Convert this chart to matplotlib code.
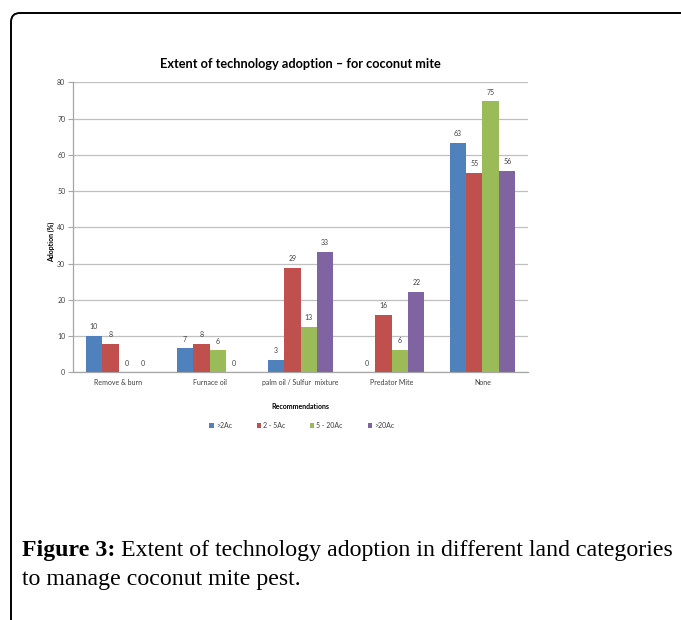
import matplotlib
matplotlib.use("Agg")
import matplotlib.pyplot as plt
import numpy as np
from matplotlib.path import Path
from matplotlib.patches import PathPatch

# Adoption (%) per recommendation and land-holding class
categories = ["Remove & burn", "Furnace oil", "palm oil / Sulfur  mixture", "Predator Mite", "None"]
series_names = [">2Ac", "2 - 5Ac", "5 - 20Ac", ">20Ac"]
above_2ac = [10.1, 6.6, 3.4, 0.0, 63.3]
from_2_to_5ac = [7.8, 7.8, 28.9, 15.9, 55.1]
from_5_to_20ac = [0.0, 6.1, 12.6, 6.2, 74.8]
above_20ac = [0.0, 0.0, 33.3, 22.2, 55.6]
y_ticks = [0, 10, 20, 30, 40, 50, 60, 70, 80]

colors = ["#4F81BD", "#C0504D", "#9BBB59", "#8064A2"]
series = [above_2ac, from_2_to_5ac, from_5_to_20ac, above_20ac]

W, H = 681, 620
fig = plt.figure(figsize=(W / 100, H / 100), dpi=100)

# Background layer for frame and caption (pixel coordinates)
bg = fig.add_axes([0, 0, 1, 1])
bg.set_xlim(0, W)
bg.set_ylim(H, 0)
bg.axis("off")

# Frame with rounded top-left corner
verts = [(11, H + 5), (11, 22), (11, 13), (20, 13), (W + 5, 13)]
codes = [Path.MOVETO, Path.LINETO, Path.CURVE3, Path.CURVE3, Path.LINETO]
bg.add_patch(PathPatch(Path(verts, codes), fill=False, lw=1.4, ec="black"))

# Caption
serif = ["Liberation Serif", "DejaVu Serif"]
cap_size = 17.2
cap1 = bg.text(22, 556, "Figure 3:", fontsize=cap_size, fontweight="bold",
               family=serif, va="baseline", ha="left")
bg.annotate(" Extent of technology adoption in different land categories",
            xy=(1, 0), xycoords=cap1, va="bottom", ha="left",
            fontsize=cap_size, family=serif)
bg.text(22, 585, "to manage coconut mite pest.", fontsize=cap_size,
        family=serif, va="baseline", ha="left")

# Chart
ax = fig.add_axes([73 / W, 1 - 372.3 / H, (528 - 73) / W, (372.3 - 82.3) / H])
chart_font = ["Lato", "DejaVu Sans"]

x = np.arange(len(categories))
bw = 0.181
offsets = (np.arange(len(series)) - 1.5) * bw
for vals, name, col, off in zip(series, series_names, colors, offsets):
    bars = ax.bar(x + off, vals, width=bw, color=col, label=name,
                  edgecolor="none", zorder=3)
    for b, v in zip(bars, vals):
        ax.annotate(f"{v:.0f}", xy=(b.get_x() + b.get_width() / 2, v),
                    xytext=(0, 6.5), textcoords="offset points",
                    ha="center", va="center", fontsize=5,
                    color="#404040", family=chart_font)

ax.set_xlim(-0.5, len(categories) - 0.5)
ax.set_ylim(0, 80)
ax.set_yticks(y_ticks)
ax.set_xticks(x)
ax.set_xticklabels(categories)
ax.tick_params(axis="y", length=3.5, width=0.8, color="#A6A6A6",
               labelsize=5, labelcolor="#404040", pad=2)
ax.tick_params(axis="x", length=0, labelsize=5, labelcolor="#404040", pad=5)
for lab in ax.get_xticklabels() + ax.get_yticklabels():
    lab.set_family(chart_font)

ax.yaxis.grid(True, color="#BFBFBF", lw=0.9, zorder=0)
ax.set_axisbelow(True)
for s in ["top", "right"]:
    ax.spines[s].set_visible(False)
for s in ["left", "bottom"]:
    ax.spines[s].set_color("#A6A6A6")
    ax.spines[s].set_linewidth(0.9)

ax.set_title("Extent of technology adoption \u2013 for coconut mite",
             fontsize=9.2, fontweight="bold", family=chart_font, pad=10)
ax.set_ylabel("Adoption (%)", fontsize=5, fontweight="bold",
              family=chart_font)
ax.yaxis.set_label_coords(-0.04, 0.45)
ax.set_xlabel("Recommendations", fontsize=5, fontweight="bold",
              family=chart_font, labelpad=12)

leg = ax.legend(loc="upper center", bbox_to_anchor=(0.503, -0.15), ncol=4,
                frameon=False, handlelength=0.6,
                handleheight=0.6, handletextpad=0.3, columnspacing=3.6,
                prop={"family": chart_font, "size": 5})
for t in leg.get_texts():
    t.set_color("#404040")

fig.savefig("out.png", dpi=100, facecolor="white")
